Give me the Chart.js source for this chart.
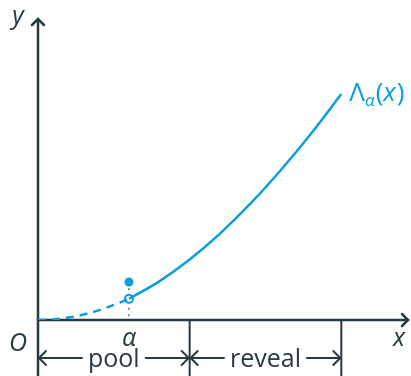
<!DOCTYPE html>
<html>
<head>
<meta charset="utf-8">
<script src="https://cdn.jsdelivr.net/npm/chart.js@4"></script>
<style>
  html, body { margin: 0; padding: 0; background: #fff; }
  #wrap { position: relative; width: 411px; height: 376px; }
</style>
</head>
<body>
<div id="wrap"><canvas id="c"></canvas></div>
<script>
// curve: dashed part up to alpha, solid part after
const dashX = [0, 0.5, 1, 1.5, 2, 2.5, 3];
const dashY = [0, 0.02, 0.08, 0.18, 0.32, 0.5, 0.70];
const solidX = [3, 4, 5, 6, 7, 8, 9, 10];
const solidY = [0.70, 1.28, 2.0, 2.86, 3.85, 4.96, 6.17, 7.48];

const alphaX = 3;
const openDotY = 0.70;
const filledDotY = 1.26;
const poolEnd = 5;
const revealEnd = 10;

const axisColor = '#263a42';
const blue = '#0a9fdc';
const fontFam = '"Open Sans", "Noto Sans", sans-serif';

function arrowHead(ctx, x, y, dir, size) {
    // dir: 'up','left','right'
    ctx.beginPath();
    if (dir === 'up') {
        ctx.moveTo(x - size, y + size); ctx.lineTo(x, y); ctx.lineTo(x + size, y + size);
    } else if (dir === 'right') {
        ctx.moveTo(x - size, y - size); ctx.lineTo(x, y); ctx.lineTo(x - size, y + size);
    } else {
        ctx.moveTo(x + size, y - size); ctx.lineTo(x, y); ctx.lineTo(x + size, y + size);
    }
    ctx.stroke();
}

const axesPlugin = {
    id: 'axes',
    beforeDatasetsDraw(chart) {
        const { ctx, scales: { x, y } } = chart;
        const x0 = x.getPixelForValue(0);
        const y0 = y.getPixelForValue(0);
        ctx.save();
        ctx.strokeStyle = axisColor;
        ctx.lineWidth = 2.5;
        ctx.lineCap = 'round';
        // y axis, running below the x axis too
        ctx.beginPath();
        ctx.moveTo(x0, chart.height);
        ctx.lineTo(x0, y.getPixelForValue(10) + 1);
        ctx.stroke();
        arrowHead(ctx, x0, y.getPixelForValue(10) + 1, 'up', 6);
        // x axis
        ctx.beginPath();
        ctx.moveTo(x0, y0);
        ctx.lineTo(chart.width - 3, y0);
        ctx.stroke();
        arrowHead(ctx, chart.width - 3, y0, 'right', 6);
        // interval boundaries
        ctx.lineWidth = 2;
        [poolEnd, revealEnd].forEach(v => {
            const px = x.getPixelForValue(v);
            ctx.beginPath();
            ctx.moveTo(px, y0);
            ctx.lineTo(px, chart.height);
            ctx.stroke();
        });
        // dotted guide at alpha
        ctx.lineWidth = 1;
        ctx.setLineDash([1.5, 5]);
        const ax = x.getPixelForValue(alphaX);
        ctx.beginPath();
        ctx.moveTo(ax, y.getPixelForValue(filledDotY));
        ctx.lineTo(ax, y0 - 2);
        ctx.stroke();
        ctx.setLineDash([]);

        // interval arrows
        const ay = 358;
        ctx.lineWidth = 2;
        ctx.font = '25px ' + fontFam;
        ctx.fillStyle = axisColor;
        ctx.textAlign = 'center';
        ctx.textBaseline = 'alphabetic';
        const spans = [[0, poolEnd, 'pool'], [poolEnd, revealEnd, 'reveal']];
        spans.forEach(([a, b, label]) => {
            const pa = x.getPixelForValue(a), pb = x.getPixelForValue(b);
            const mid = (pa + pb) / 2;
            const w = ctx.measureText(label).width / 2 + 6;
            ctx.beginPath();
            ctx.moveTo(pa + 1, ay); ctx.lineTo(mid - w, ay);
            ctx.moveTo(mid + w, ay); ctx.lineTo(pb - 1, ay);
            ctx.stroke();
            arrowHead(ctx, pa + 1, ay, 'left', 7);
            arrowHead(ctx, pb - 1, ay, 'right', 7);
            ctx.fillText(label, mid, 367);
        });

        // axis letters
        ctx.font = 'italic 25px ' + fontFam;
        ctx.fillText('y', 18, 24);
        ctx.fillText('x', chart.width - 12, 346);
        ctx.fillText('O', 18, 351);
        ctx.fillText('α', ax, 346);
        ctx.restore();
    },
    afterDatasetsDraw(chart) {
        const { ctx, scales: { x, y } } = chart;
        ctx.save();
        ctx.fillStyle = blue;
        ctx.textBaseline = 'alphabetic';
        const lx = x.getPixelForValue(10) + 8;
        const ly = 101;
        ctx.font = '26px ' + fontFam;
        ctx.fillText('Λ', lx, ly);
        let w = ctx.measureText('Λ').width;
        ctx.font = 'italic 17px ' + fontFam;
        ctx.fillText('α', lx + w, ly + 5);
        w += ctx.measureText('α').width + 1;
        ctx.font = '26px ' + fontFam;
        ctx.fillText('(', lx + w, ly);
        w += ctx.measureText('(').width;
        ctx.font = 'italic 26px ' + fontFam;
        ctx.fillText('x', lx + w, ly);
        w += ctx.measureText('x').width + 1;
        ctx.font = '26px ' + fontFam;
        ctx.fillText(')', lx + w, ly);
        ctx.restore();
    }
};

new Chart(document.getElementById('c'), {
    type: 'scatter',
    data: {
        datasets: [
            {
                data: dashX.map((v, i) => ({ x: v, y: dashY[i] })),
                showLine: true,
                borderColor: blue,
                borderWidth: 2.5,
                borderDash: [8, 6],
                pointRadius: 0,
                cubicInterpolationMode: 'monotone'
            },
            {
                data: solidX.map((v, i) => ({ x: v, y: solidY[i] })),
                showLine: true,
                borderColor: blue,
                borderWidth: 2.5,
                pointRadius: 0,
                cubicInterpolationMode: 'monotone'
            },
            {
                data: [{ x: alphaX, y: openDotY }],
                pointRadius: 4,
                pointBackgroundColor: '#fff',
                pointBorderColor: blue,
                pointBorderWidth: 2
            },
            {
                data: [{ x: alphaX, y: filledDotY }],
                pointRadius: 4.5,
                pointBackgroundColor: blue,
                pointBorderColor: blue,
                pointBorderWidth: 0
            }
        ]
    },
    options: {
        responsive: true,
        maintainAspectRatio: false,
        animation: false,
        layout: { padding: { left: 38, right: 0, top: 18, bottom: 56 } },
        scales: {
            x: { type: 'linear', min: 0, max: 12.1, display: false },
            y: { type: 'linear', min: 0, max: 10, display: false }
        },
        plugins: {
            legend: { display: false },
            tooltip: { enabled: false }
        }
    },
    plugins: [axesPlugin]
});
</script>
</body>
</html>
